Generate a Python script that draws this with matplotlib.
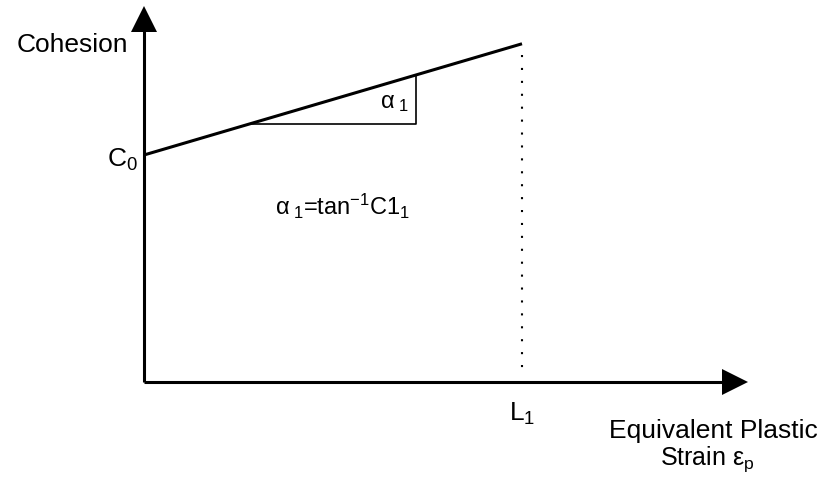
"""
Schematic of cohesion hardening: linear rise of cohesion with equivalent
plastic strain, starting at C0 and capped at L1.
"""

import matplotlib
matplotlib.use("Agg")
import matplotlib.pyplot as plt

# curve: cohesion vs equivalent plastic strain (C0 = 1, L1 = 1)
strain = [0.0, 1.0]
cohesion = [1.0, 1.49]

# slope triangle drawn under the line
tri_x = [0.28, 0.72, 0.72]
tri_y = [1.137, 1.137, 1.353]

# axis extents (arrow tips)
x_axis_end = 1.598
y_axis_end = 1.656

plt.rcParams["font.family"] = ["Liberation Sans", "DejaVu Sans"]
plt.rcParams["mathtext.fontset"] = "custom"
plt.rcParams["mathtext.rm"] = "Liberation Sans"
plt.rcParams["mathtext.it"] = "Liberation Sans"
plt.rcParams["mathtext.bf"] = "Liberation Sans:bold"

fs = 19
fs_small = 17
fig = plt.figure(figsize=(8.31, 4.81), dpi=100)
ax = fig.add_axes([0, 0, 1, 1])
ax.set_xlim(-144 / 378, 687 / 378)
ax.set_ylim(-98 / 227, 383 / 227)
ax.axis("off")

# axes with arrow heads
ax.plot([0, 0], [0, y_axis_end - 0.11], color="black", lw=2.2, solid_capstyle="butt")
ax.plot([0, x_axis_end - 0.06], [0, 0], color="black", lw=2.2, solid_capstyle="butt")
ax.plot([0], [y_axis_end - 0.057], marker="^", ms=18.7, color="black", mew=0)
ax.plot([x_axis_end - 0.034], [0], marker=">", ms=18.7, color="black", mew=0)

# cohesion line
ax.plot(strain, cohesion, color="black", lw=2.2, solid_capstyle="butt")
# limit L1
ax.plot([strain[-1], strain[-1]], [cohesion[-1] - 0.05, 0.02], color="black",
        lw=1.5, linestyle=(0, (1, 5.2)))
# slope triangle
ax.plot(tri_x, tri_y, color="black", lw=1.2)

# labels
ax.text(-0.042, 1.458, "Cohesion", fontsize=fs, ha="right", va="baseline")
ax.text(-0.015, 0.952, r"C$_0$", fontsize=fs, ha="right", va="baseline")
ax.text(0.624, 1.211, r"$\alpha_{\ 1}$", fontsize=fs_small, ha="left", va="baseline")
ax.text(0.347, 0.740, r"$\alpha_{\ 1}$=tan$^{-1}$C1$_1$", fontsize=fs_small,
        ha="left", va="baseline")
ax.text(1.0, -0.167, r"L$_1$", fontsize=fs, ha="center", va="baseline")
ax.text(1.505, -0.242, "Equivalent Plastic", fontsize=fs, ha="center", va="baseline")
ax.text(1.49, -0.361, r"Strain $\varepsilon_{p}$", fontsize=fs_small + 1, ha="center",
        va="baseline")

fig.savefig("out.png", dpi=100)
